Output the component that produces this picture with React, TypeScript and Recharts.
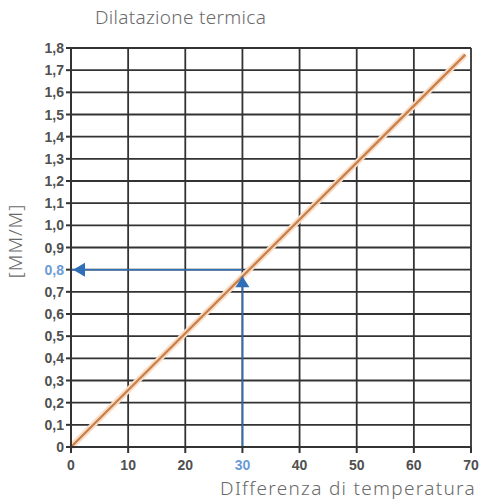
import { LineChart, Line, CartesianGrid, XAxis, YAxis } from 'recharts';

const tempDiff = [0, 69];
const expansion = [0, 1.77];
const xTicks = [0, 10, 20, 30, 40, 50, 60, 70];
const yTicks = [0, 0.1, 0.2, 0.3, 0.4, 0.5, 0.6, 0.7, 0.8, 0.9, 1.0, 1.1, 1.2, 1.3, 1.4, 1.5, 1.6, 1.7, 1.8];
// lettura d'esempio: 30 gradi -> circa 0,8 mm/m
const readX = [30, 30];
const readYVertical = [0, 0.77];
const readXHorizontal = [30, 0];
const readYHorizontal = [0.8, 0.8];

const lineData = tempDiff.map((x, i) => ({ x, y: expansion[i] }));
const vertData = readX.map((x, i) => ({ x, y: readYVertical[i] }));
const horzData = readXHorizontal.map((x, i) => ({ x, y: readYHorizontal[i] }));

const BLUE = '#2f6fb8';
const BLUE_TEXT = '#6b9bd6';
const TICK = '#505050';
const GRID = '#333333';
const LABEL = { fontFamily: 'Noto Sans, sans-serif', fontWeight: 300, color: '#6a6a6a', whiteSpace: 'nowrap' as const, letterSpacing: 1 };

const fmt = (v: number) => (v === 0 ? '0' : v.toFixed(1).replace('.', ','));

const YTick = (props: any) => {
  const { x, y, payload } = props;
  const hl = Math.abs(payload.value - 0.8) < 1e-6;
  return (
    <text x={x} y={y} dy={5} textAnchor="end" fontSize={14} fontWeight={700}
      fontFamily="Liberation Sans, Arial, sans-serif" fill={hl ? BLUE_TEXT : TICK}>
      {fmt(payload.value)}
    </text>
  );
};

const XTick = (props: any) => {
  const { x, y, payload } = props;
  const hl = payload.value === 30;
  return (
    <text x={x} y={y} dy={15} textAnchor="middle" fontSize={14} fontWeight={700}
      fontFamily="Liberation Sans, Arial, sans-serif" fill={hl ? BLUE_TEXT : TICK}>
      {payload.value}
    </text>
  );
};

const upArrow = (props: any) => {
  const { cx, cy, index } = props;
  if (index !== 1) return <g key={`u${index}`} />;
  return <polygon key={`u${index}`} points={`${cx},${cy} ${cx - 7},${cy + 11} ${cx + 7},${cy + 11}`} fill={BLUE} />;
};

const leftArrow = (props: any) => {
  const { cx, cy, index } = props;
  if (index !== 1) return <g key={`l${index}`} />;
  return <polygon key={`l${index}`} points={`${cx + 2},${cy} ${cx + 14},${cy - 7} ${cx + 14},${cy + 7}`} fill={BLUE} />;
};

export default function App() {
  return (
    <div style={{ position: 'absolute', left: 0, top: 0, width: 481, height: 504, background: '#fff' }}>
      <div style={{ ...LABEL, position: 'absolute', left: 95, top: 4, fontSize: 19, letterSpacing: 0.3 }}>
        Dilatazione termica
      </div>
      <div style={{ ...LABEL, position: 'absolute', left: 15, top: 241, transform: 'translate(-50%, -50%) rotate(-90deg)', fontSize: 19 }}>
        [MM/M]
      </div>
      <div style={{ ...LABEL, position: 'absolute', right: 5, top: 475, fontSize: 19, letterSpacing: 1.3 }}>
        DIfferenza di temperatura
      </div>
      <LineChart width={481} height={504} margin={{ top: 48, right: 10, left: 31, bottom: 27 }}>
        <CartesianGrid stroke={GRID} strokeWidth={1.8} />
        <XAxis type="number" dataKey="x" domain={[0, 70]} ticks={xTicks} height={30}
          axisLine={{ stroke: GRID, strokeWidth: 2 }} tickLine={{ stroke: GRID, strokeWidth: 2 }} tickSize={6}
          tick={<XTick />} interval={0} />
        <YAxis type="number" dataKey="y" domain={[0, 1.8]} ticks={yTicks} width={40}
          axisLine={{ stroke: GRID, strokeWidth: 2 }} tickLine={{ stroke: GRID, strokeWidth: 2 }} tickSize={5}
          tick={<YTick />} interval={0} />
        <Line data={lineData} dataKey="y" stroke="#f8dcc6" strokeWidth={6} dot={false} isAnimationActive={false} />
        <Line data={lineData} dataKey="y" stroke="#c97f48" strokeWidth={2.2} dot={false} isAnimationActive={false} />
        <Line data={vertData} dataKey="y" stroke={BLUE} strokeWidth={1.5} dot={upArrow} isAnimationActive={false} />
        <Line data={horzData} dataKey="y" stroke={BLUE} strokeWidth={1.5} dot={leftArrow} isAnimationActive={false} />
      </LineChart>
    </div>
  );
}
